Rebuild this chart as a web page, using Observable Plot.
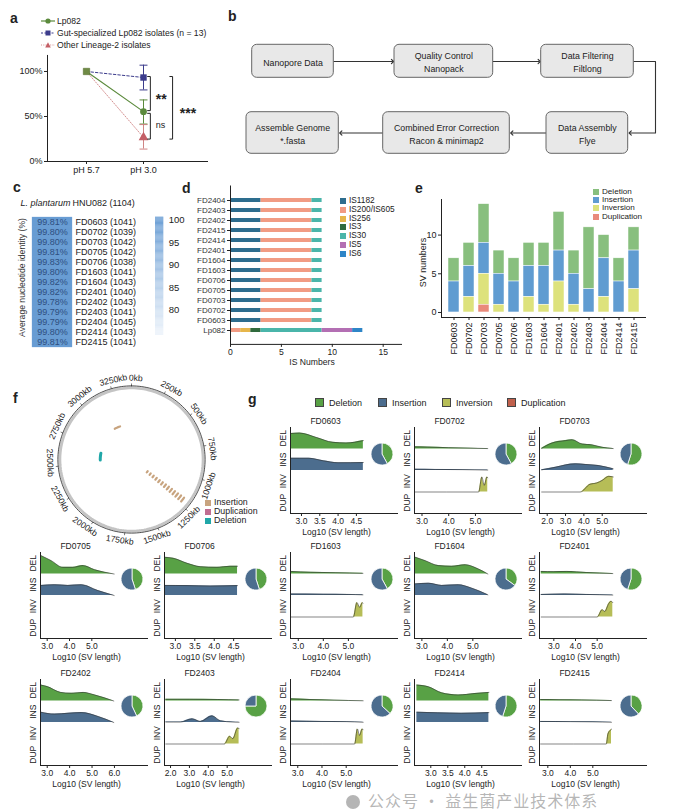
<!DOCTYPE html>
<html><head><meta charset="utf-8">
<script src="https://cdn.jsdelivr.net/npm/d3@7"></script>
<script src="https://cdn.jsdelivr.net/npm/@observablehq/plot@0.6"></script>
<style>
body{margin:0;background:#fff;}
#root{position:relative;width:685px;height:811px;overflow:hidden;font-family:"Liberation Sans",Arial,Helvetica,sans-serif;color:#222;}
.lbl{position:absolute;font-weight:bold;font-size:14px;line-height:1;}
.leg{position:absolute;color:#222;white-space:nowrap;line-height:1;}
.sw{display:inline-block;margin-right:3px;vertical-align:-1px;}
</style></head><body><div id="root"></div>
<script>
// ================= DATA =================
// a
const phLevels = ["pH 5.7", "pH 3.0"];
const aSeries = ["Lp082", "Gut-specialized Lp082 isolates (n = 13)", "Other Lineage-2 isolates"];
const aLp082 = [100, 55.4];
const aGut = [100, 93.3];
const aOther = [100, 26.8];
const aErrLow = [41.6, 79.5, 13.8];
const aErrHigh = [68.4, 107.0, 41.0];
const aBracketFrom = [94.4, 53.5, 94.4];
const aBracketTo = [56.5, 24.9, 24.9];
const aBracketLabel = ["**", "ns", "***"];
// b
const bSteps = ["Nanopore Data", "Quality Control\nNanopack", "Data Filtering\nFiltlong", "Data Assembly\nFlye", "Combined Error Correction\nRacon & minimap2", "Assemble Genome\n*.fasta"];
// c
const cStrains = ["FD0603","FD0702","FD0703","FD0705","FD0706","FD1603","FD1604","FD2401","FD2402","FD2403","FD2404","FD2414","FD2415"];
const cANI = [99.81,99.80,99.80,99.81,99.83,99.80,99.82,99.82,99.78,99.79,99.79,99.80,99.81];
const cGenes = [1041,1039,1042,1042,1038,1041,1043,1040,1043,1041,1045,1043,1041];
const cRef = "HNU082 (1104)";
const cColorTicks = [80,85,90,95,100];
// d
const dStrains = ["FD2404","FD2403","FD2402","FD2415","FD2414","FD2401","FD1604","FD1603","FD0706","FD0705","FD0703","FD0702","FD0603","Lp082"];
const dTypes = ["IS1182","IS200/IS605","IS256","IS3","IS30","IS5","IS6"];
const dIsolateCounts = [3,5,0,0,1,0,0];
const dLp082Counts = [0,1,1,1,6,3,1];
const dTicks = [0,5,10,15];
// e
const eStrains = ["FD0603","FD0702","FD0703","FD0705","FD0706","FD1603","FD1604","FD2401","FD2402","FD2403","FD2404","FD2414","FD2415"];
const eTypes = ["Deletion","Insertion","Inversion","Duplication"];
const eDeletion = [3,3,5,3,3,3,3,5,3,8,3,3,3];
const eInsertion = [4,4,4,4,4,4,5,4,4,3,5,4,5];
const eInversion = [0,2,4,1,0,2,1,4,1,0,2,0,3];
const eDuplication = [0,0,1,0,0,0,0,0,0,0,0,0,0];
// f
const fGenomeKb = 3400;
const fTicksKb = [0,250,500,750,1000,1250,1500,1750,2000,2250,2500,2750,3000,3250];
const fSVType = ["Insertion","Insertion","Deletion"];
const fSVStartKb = [1190, 3130, 2540];
const fSVEndKb = [1230, 3220, 2660];
const fSVTrackFrom = [0, 4, 3];
const fSVTrackTo = [12, 4, 3];
// g
const gStrains = ["FD0603","FD0702","FD0703","FD0705","FD0706","FD1603","FD1604","FD2401","FD2402","FD2403","FD2404","FD2414","FD2415"];
const gDomains = [[2.70,5.65],[2.72,6.76],[1.58,7.47],[2.70,7.54],[2.72,5.50],[2.69,7.0],[2.71,6.95],[2.34,7.32],[2.70,7.52],[1.68,7.4],[2.70,7.16],[2.52,5.70],[2.63,7.43]];
const gTicks = [[3,3.5,4,4.5],[3,4,5],[2,3,4,5],[3,4,5],[3,3.5,4,4.5],[3,4,5],[3,4,5],[3,4,5],[3,4,5,6],[2,3,4,5],[3,4,5],[3,3.5,4,4.5],[3,4,5]];
const gDEL = [
  [[2.70,0.72],[2.95,0.74],[3.40,0.54],[3.86,0.31],[4.22,0.28],[4.69,0.39]],
  [[2.72,0.10],[3.2,0.09],[4.0,0.06],[4.8,0.04],[5.46,0.02]],
  [[1.70,0.03],[2.27,0.28],[3.0,0.39],[3.36,0.43],[3.91,0.23],[4.46,0.19],[5.0,0.08],[5.6,0.02]],
  [[2.73,0.85],[3.18,0.62],[3.70,0.31],[4.15,0.31],[4.60,0.39],[5.12,0.2],[6.0,0.0]],
  [[2.72,0.78],[2.95,0.73],[3.30,0.5],[3.64,0.34],[4.07,0.31],[4.41,0.36],[4.6,0.36]],
  [[2.69,0.12],[3.5,0.08],[4.5,0.06],[5.58,0.03]],
  [[2.74,0.78],[3.13,0.62],[3.65,0.39],[4.17,0.36],[4.7,0.43],[5.22,0.23],[5.59,0.0]],
  [[2.42,0.12],[3.0,0.11],[3.6,0.12],[4.5,0.07],[5.72,0.02]],
  [[2.72,0.74],[3.0,0.67],[3.6,0.4],[4.07,0.36],[4.6,0.4],[5.12,0.28],[5.97,0.0]],
  [[1.75,0.08],[3.0,0.08],[4.5,0.07],[5.63,0.05]],
  [[2.72,0.10],[3.5,0.07],[4.5,0.04],[5.7,0.01]],
  [[2.59,0.74],[2.93,0.66],[3.32,0.38],[3.81,0.28],[4.3,0.35],[4.71,0.4]],
  [[2.68,0.07],[3.5,0.06],[4.5,0.05],[5.83,0.02]]
];
const gINS = [
  [[2.70,0.57],[3.2,0.57],[3.6,0.45],[4.0,0.36],[4.69,0.37]],
  [[2.72,0.06],[3.5,0.05],[4.5,0.04],[5.46,0.02]],
  [[1.70,0.03],[2.45,0.15],[3.0,0.26],[3.55,0.31],[4.1,0.28],[4.8,0.23],[5.6,0.08]],
  [[2.73,0.47],[3.33,0.5],[3.93,0.47],[4.53,0.5],[5.27,0.23],[6.0,0.0]],
  [[2.72,0.47],[3.3,0.46],[3.9,0.44],[4.6,0.46]],
  [[2.69,0.07],[4.0,0.06],[5.0,0.05],[5.58,0.03]],
  [[2.74,0.54],[3.26,0.57],[3.78,0.47],[4.43,0.5],[4.96,0.34],[5.59,0.03]],
  [[2.42,0.05],[3.5,0.07],[4.5,0.05],[5.72,0.02]],
  [[2.72,0.48],[3.33,0.39],[3.93,0.43],[4.53,0.46],[5.27,0.28],[5.97,0.0]],
  [[1.75,0.02],[2.53,0.02],[3.15,0.17],[3.58,0.05],[4.2,0.31],[4.64,0.08],[5.3,0.02],[5.63,0.01]],
  [[2.72,0.07],[4.0,0.05],[5.0,0.04],[5.7,0.01]],
  [[2.59,0.48],[3.2,0.45],[3.9,0.43],[4.71,0.46]],
  [[2.68,0.05],[4.0,0.04],[5.0,0.03],[5.83,0.01]]
];
const gINV = [
  [],
  [[2.72,0],[5.12,0],[5.24,0.7],[5.33,0.31],[5.43,0.7],[5.46,0.66]],
  [[1.70,0],[3.8,0],[4.33,0.36],[4.7,0.42],[5.0,0.54],[5.36,0.73],[5.6,0.7]],
  [],
  [],
  [[2.69,0],[5.2,0],[5.34,0.67],[5.45,0.45],[5.56,0.67],[5.58,0.64]],
  [],
  [[2.42,0],[5.0,0],[5.23,0.34],[5.35,0.26],[5.53,0.62],[5.64,0.73],[5.72,0.67]],
  [],
  [[1.75,0],[4.85,0],[5.13,0.36],[5.3,0.25],[5.55,0.74],[5.63,0.72]],
  [[2.72,0],[5.35,0],[5.46,0.7],[5.55,0.4],[5.66,0.7],[5.7,0.66]],
  [],
  [[2.68,0],[5.6,0],[5.67,0.46],[5.78,0.64],[5.83,0.69]]
];
const gPieDeletionShare = [0.42,0.42,0.55,0.45,0.45,0.42,0.35,0.55,0.43,0.75,0.37,0.55,0.38];
const gLegend = ["Deletion","Insertion","Inversion","Duplication"];

// ================= STYLES / HELPERS =================
const FONT = '"Liberation Sans", Arial, Helvetica, sans-serif';
const root = document.getElementById("root");
function place(el, left, top) { el.style.position = "absolute"; el.style.left = left + "px"; el.style.top = top + "px"; root.appendChild(el); return el; }
function st(fs = 9) { return {background: "transparent", fontFamily: FONT, fontSize: fs + "px", color: "#222", overflow: "visible"}; }
function letter(t, x, y) { const d = document.createElement("div"); d.className = "lbl"; d.textContent = t; place(d, x, y); }
function legendV(items, left, top, step, fs, sw) {
  items.forEach(([label, color], i) => {
    const d = document.createElement("div"); d.className = "leg"; d.style.fontSize = fs + "px";
    d.innerHTML = `<span class="sw" style="background:${color};width:${sw}px;height:${sw}px"></span>${label}`;
    place(d, left, top + i * step - fs / 2);
  });
}

// ================= PANEL a =================
{
  const lo = 0.316, hi = 3.14;
  const col = ["#5b8a3c", "#3c3c8c", "#cf8484"];
  const arrs = [aLp082, aGut, aOther];
  const long = [];
  arrs.forEach((arr, s) => arr.forEach((v, j) => long.push({s, x: j + 1, v})));
  const err = aSeries.map((n, s) => ({s, x: 2, lo: aErrLow[s], hi: aErrHigh[s]}));
  const caps = err.flatMap(e => [{s: e.s, x: e.x, y: e.lo}, {s: e.s, x: e.x, y: e.hi}]);
  const bx = [2.12, 2.12, 2.51];
  const br = aBracketLabel.map((l, k) => ({x: bx[k], from: aBracketFrom[k], to: aBracketTo[k], l}));
  const brTicks = br.flatMap(b => [{x: b.x, y: b.from}, {x: b.x, y: b.to}]);
  const p = Plot.plot({
    width: 230, height: 128, marginLeft: 47, marginRight: 22, marginTop: 0, marginBottom: 17,
    x: {domain: [lo, hi], axis: null}, y: {domain: [0, 123.3], axis: null},
    style: st(9),
    marks: [
      Plot.ruleY([0], {x1: lo, x2: hi, stroke: "#222"}),
      Plot.ruleX([lo], {y1: 0, y2: 117.8, stroke: "#222"}),
      Plot.axisY({ticks: [0, 50, 100], tickFormat: d => d + "%", tickSize: 3, tickPadding: 2, fontSize: 9, label: null}),
      Plot.axisX({ticks: [1, 2], tickFormat: d => phLevels[d - 1], tickSize: 3, tickPadding: 2, fontSize: 9, label: null}),
      Plot.line(long.filter(d => d.s === 2), {x: "x", y: "v", stroke: col[2], strokeWidth: 0.9, strokeDasharray: "1.2,1.6"}),
      Plot.line(long.filter(d => d.s === 1), {x: "x", y: "v", stroke: col[1], strokeWidth: 1, strokeDasharray: "2.5,2"}),
      Plot.line(long.filter(d => d.s === 0), {x: "x", y: "v", stroke: col[0], strokeWidth: 1.2}),
      Plot.ruleX(err, {x: "x", y1: "lo", y2: "hi", stroke: d => col[d.s], strokeWidth: 1}),
      Plot.link(caps, {x1: d => d.x - 0.07, x2: d => d.x + 0.07, y1: "y", y2: "y", stroke: d => col[d.s], strokeWidth: 1}),
      Plot.dot(long.filter(d => d.x === 2 && d.s === 2), {x: "x", y: "v", symbol: "triangle", r: 3.6, fill: "#c45f66"}),
      Plot.dot(long.filter(d => d.x === 2 && d.s === 0), {x: "x", y: "v", symbol: "circle", r: 3.4, fill: col[0]}),
      Plot.dot(long.filter(d => d.x === 2 && d.s === 1), {x: "x", y: "v", symbol: "square", r: 3.6, fill: col[1]}),
      Plot.dot(long.filter(d => d.x === 1 && d.s === 0), {x: "x", y: "v", symbol: "square", r: 3.6, fill: "#6f8a45", stroke: "#55702f", strokeWidth: 0.6}),
      Plot.link(br, {x1: "x", x2: "x", y1: "from", y2: "to", stroke: "#222", strokeWidth: 1}),
      Plot.link(brTicks, {x1: "x", x2: d => d.x - 0.055, y1: "y", y2: "y", stroke: "#222", strokeWidth: 1}),
      Plot.text([br[0]], {x: () => 2.31, y: () => 73.5, text: "l", fontSize: 14, fontWeight: "bold", dy: 4}),
      Plot.text([br[1]], {x: () => 2.30, y: () => 40, text: "l", fontSize: 9}),
      Plot.text([br[2]], {x: () => 2.78, y: () => 57.8, text: "l", fontSize: 14, fontWeight: "bold", dy: 4})
    ]
  });
  place(p, 0, 50);
  const icons = [
    `<svg width="16" height="8" style="vertical-align:-1px"><line x1="1" y1="4" x2="15" y2="4" stroke="${col[0]}" stroke-width="1.2"/><circle cx="8" cy="4" r="2.6" fill="${col[0]}"/></svg>`,
    `<svg width="16" height="8" style="vertical-align:-1px"><line x1="1" y1="4" x2="15" y2="4" stroke="${col[1]}" stroke-width="1" stroke-dasharray="2,1.5"/><rect x="5.5" y="1.5" width="5" height="5" fill="${col[1]}"/></svg>`,
    `<svg width="16" height="8" style="vertical-align:-1px"><line x1="1" y1="4" x2="15" y2="4" stroke="${col[2]}" stroke-width="0.9" stroke-dasharray="1,1.3"/><path d="M8,1.2L10.8,6.5L5.2,6.5Z" fill="#c45f66"/></svg>`
  ];
  aSeries.forEach((s, i) => {
    const d = document.createElement("div"); d.className = "leg"; d.style.fontSize = "8.6px";
    d.innerHTML = icons[i] + `<span style="margin-left:1px">${s}</span>`;
    place(d, 40, [22, 34, 46][i] - 5);
  });
}

// ================= PANEL b =================
{
  const boxes = [[21.7,103.3,44.3,77.3],[164,262.7,44.3,77.3],[310.7,403.3,44.3,77.3],[316,397.7,111.7,153.3],[152.7,279.3,111.7,153.3],[16,108.3,111.7,153.3]];
  const nodes = bSteps.map((t, i) => ({t, x1: boxes[i][0], x2: boxes[i][1], y1: boxes[i][2], y2: boxes[i][3]}));
  const links = [
    [[103.3,61],[162,61]], [[262.7,61],[308.7,61]], [[403.3,61],[425,61],[425,132.5],[399.7,132.5]],
    [[316,132.5],[281.3,132.5]], [[152.7,132.5],[110.3,132.5]]
  ].flatMap((pts, k) => pts.map(([x, y]) => ({k, x, y})));
  const p = Plot.plot({
    width: 455, height: 170, margin: 0,
    x: {domain: [0, 455], axis: null}, y: {domain: [0, 170], reverse: true, axis: null},
    style: st(9),
    marks: [
      Plot.line(links, {x: "x", y: "y", z: "k", stroke: "#333", strokeWidth: 1.1, markerEnd: "arrow"}),
      Plot.rect(nodes, {x1: "x1", x2: "x2", y1: "y1", y2: "y2", rx: 5, fill: "#e8e8e8", stroke: "#666", strokeWidth: 1}),
      Plot.text(nodes, {x: d => (d.x1 + d.x2) / 2, y: d => (d.y1 + d.y2) / 2, text: "t", fontSize: 8.8, lineHeight: 1.5, fill: "#222"})
    ]
  });
  place(p, 230, 0);
}

// ================= PANEL c =================
{
  const cData = cStrains.map((s, i) => ({strain: s, ani: cANI[i], genes: cGenes[i]}));
  const color = {type: "linear", domain: [74.4, 100.6], range: ["#eef4fb", "#6399d2"]};
  const p = Plot.plot({
    width: 150, height: 165, marginLeft: 32, marginRight: 78, marginTop: 16, marginBottom: 7,
    x: {type: "band", domain: ["ANI"], padding: 0, axis: null},
    y: {type: "band", domain: cStrains, padding: 0, axis: null},
    color, style: st(9),
    marks: [
      Plot.cell(cData, {x: () => "ANI", y: "strain", fill: "ani", stroke: "#76a4d6", strokeWidth: 0.3}),
      Plot.text(cData, {x: () => "ANI", y: "strain", text: d => d.ani.toFixed(2) + "%", fill: "#2f4f80", fontSize: 9}),
      Plot.text(cData, {x: () => "ANI", y: "strain", text: d => `${d.strain} (${d.genes})`, dx: 23, textAnchor: "start", fill: "#222", fontSize: 9}),
      Plot.text(["L. plantarum"], {x: () => "ANI", frameAnchor: "top", lineAnchor: "middle", dx: 18, dy: -8, textAnchor: "end", fontStyle: "italic", fontSize: 9}),
      Plot.text([cRef], {x: () => "ANI", frameAnchor: "top", lineAnchor: "middle", dx: 20, dy: -8, textAnchor: "start", fontSize: 9}),
      Plot.text(["Average nucleotide identity (%)"], {frameAnchor: "left", textAnchor: "middle", lineAnchor: "middle", dx: -10, dy: -5, rotate: -90, fontSize: 8.6, fill: "#333"})
    ]
  });
  place(p, 0, 195);
  const steps = d3.range(74.4, 100.6, 0.2);
  const cb = Plot.plot({
    width: 50, height: 130, marginLeft: 10, marginRight: 31.7, marginTop: 6.7, marginBottom: 5,
    x: {domain: [0, 1], axis: null}, y: {domain: [74.4, 100.6], axis: null},
    color, style: st(9.5),
    marks: [
      Plot.rect(steps, {x1: () => 0, x2: () => 1, y1: d => d, y2: d => d + 0.21, fill: d => d}),
      Plot.axisY({anchor: "right", ticks: cColorTicks, tickSize: 0, tickPadding: 5, fontSize: 9.5, label: null})
    ]
  });
  place(cb, 145, 210);
}

// ================= PANEL d =================
{
  const dColors = ["#2d6d8e","#f19b83","#e6b64b","#2f6a3d","#4ab5aa","#b36fb3","#2e85c7"];
  const dData = [];
  dStrains.forEach(s => dTypes.forEach((t, k) => {
    const n = s === "Lp082" ? dLp082Counts[k] : dIsolateCounts[k];
    if (n > 0) dData.push({strain: s, type: t, n});
  }));
  const p = Plot.plot({
    width: 230, height: 182, marginLeft: 47, marginRight: 12, marginTop: 0.5, marginBottom: 23.1,
    x: {domain: [0, 16.8], axis: null},
    y: {type: "band", domain: dStrains, padding: 0.57, axis: null},
    color: {domain: dTypes, range: dColors},
    style: st(8),
    marks: [
      Plot.barX(dData, {x: "n", y: "strain", fill: "type", order: dTypes}),
      Plot.frame({anchor: "bottom", stroke: "#222"}),
      Plot.frame({anchor: "left", stroke: "#222"}),
      Plot.axisY({tickSize: 3, tickPadding: 2, fontSize: 8, label: null, fill: "#333"}),
      Plot.axisX({ticks: dTicks, tickSize: 3, tickPadding: 1, fontSize: 8.6, label: null}),
      Plot.text(["IS Numbers"], {frameAnchor: "bottom", lineAnchor: "middle", textAnchor: "middle", dy: 18, dx: -4, fontSize: 8.6})
    ]
  });
  place(p, 183, 185);
  legendV(dTypes.map((t, k) => [t, dColors[k]]), 340, 200, 8.83, 8.3, 6);
}

// ================= PANEL e =================
{
  const eColors = ["#88bf7e", "#609cd1", "#dde27c", "#e98a7b"];
  const cols = [eDeletion, eInsertion, eInversion, eDuplication];
  const eData = [];
  eStrains.forEach((s, i) => eTypes.forEach((t, k) => { if (cols[k][i] > 0) eData.push({strain: s, type: t, n: cols[k][i]}); }));
  const p = Plot.plot({
    width: 240, height: 175, marginLeft: 26, marginRight: 10, marginTop: 14, marginBottom: 43,
    x: {type: "band", domain: eStrains, padding: 0.3, axis: null},
    y: {domain: [-0.65, 14.6], axis: null},
    color: {domain: eTypes, range: eColors},
    style: st(9),
    marks: [
      Plot.barY(eData, {x: "strain", y: "n", fill: "type", order: ["Duplication", "Inversion", "Insertion", "Deletion"], stroke: "#fff", strokeWidth: 0.5}),
      Plot.frame({anchor: "bottom", stroke: "#222"}),
      Plot.frame({anchor: "left", stroke: "#222"}),
      Plot.axisY({ticks: [0, 5, 10], tickSize: 3, tickPadding: 2, fontSize: 9, label: null}),
      Plot.axisX({tickRotate: -90, tickSize: 3, tickPadding: 2, fontSize: 9, label: null}),
      Plot.text(["SV numbers"], {frameAnchor: "left", textAnchor: "middle", lineAnchor: "middle", dx: -18, dy: 4, rotate: -90, fontSize: 9})
    ]
  });
  place(p, 415, 185);
  legendV(eTypes.map((t, k) => [t, eColors[k]]), 593, 192, 8.2, 8.1, 6);
}

// ================= PANEL f =================
{
  const fColors = {Insertion: "#c8a47f", Duplication: "#c06d91", Deletion: "#20a7a8"};
  const ang = kb => kb / fGenomeKb * 2 * Math.PI;
  const px = (kb, r) => r * Math.sin(ang(kb));
  const py = (kb, r) => r * Math.cos(ang(kb));
  const labelShift = 3 / 360 * fGenomeKb; // label placement offset (layout)
  const ring = d3.range(0, 181).map(j => j / 180 * fGenomeKb);
  const segs = [];
  fSVType.forEach((type, k) => {
    for (let t = fSVTrackFrom[k]; t <= fSVTrackTo[k]; t++) {
      const r = 20 + 3.75 * t;
      for (let j = 0; j <= 6; j++) segs.push({id: k + "-" + t, type, kb: fSVStartKb[k] + (fSVEndKb[k] - fSVStartKb[k]) * j / 6, r});
    }
  });
  const rot = kb => { const a = (kb + labelShift) / fGenomeKb * 360; return (a <= 90 || a >= 270) ? a : a - 180; };
  const p = Plot.plot({
    width: 210, height: 210, margin: 0,
    x: {domain: [-105, 105], axis: null}, y: {domain: [-105, 105], axis: null},
    style: st(8.6),
    marks: [
      Plot.line(ring, {x: kb => px(kb, 71.6), y: kb => py(kb, 71.6), stroke: "#c4c4c4", strokeWidth: 2.8}),
      Plot.line(ring, {x: kb => px(kb, 73.6), y: kb => py(kb, 73.6), stroke: "#222", strokeWidth: 0.8}),
      Plot.link(fTicksKb, {x1: kb => px(kb, 73.6), y1: kb => py(kb, 73.6), x2: kb => px(kb, 76), y2: kb => py(kb, 76), stroke: "#222", strokeWidth: 0.6}),
      Plot.text(fTicksKb, {x: kb => px(kb + labelShift, 81.5), y: kb => py(kb + labelShift, 81.5), text: kb => kb + "kb", rotate: rot, fontSize: 8.6, fill: "#222"}),
      Plot.line(segs.filter(d => d.type === "Insertion"), {x: d => px(d.kb, d.r), y: d => py(d.kb, d.r), z: "id", stroke: fColors.Insertion, strokeWidth: 2.2}),
      Plot.line(segs.filter(d => d.type === "Deletion"), {x: d => px(d.kb, d.r), y: d => py(d.kb, d.r), z: "id", stroke: fColors.Deletion, strokeWidth: 3})
    ]
  });
  place(p, 26, 354);
  legendV([["Insertion", fColors.Insertion], ["Duplication", fColors.Duplication], ["Deletion", fColors.Deletion]], 205, 502, 9, 8.8, 6);
}

// ================= PANEL g =================
{
  const gColors = ["#58a145", "#4c6d8e", "#b6bd57", "#c0604c"];
  const gX0 = [290,414,539,39.5,164,290,414,539,39.5,164,290,414,539];
  const gTop = [427,427,427,552,552,552,552,552,679,679,679,679,679];
  gStrains.forEach((name, i) => {
    const [lo, hi] = gDomains[i];
    const rows = [[gDEL[i], 3, gColors[0]], [gINS[i], 2, gColors[1]], [gINV[i], 1, gColors[2]]];
    const marks = [];
    for (const [pts, r, c] of rows) {
      if (!pts.length) continue;
      marks.push(Plot.area(pts, {x1: d => d[0], y1: () => r, y2: d => r + d[1], fill: c, curve: "monotone-x"}));
      marks.push(Plot.line(pts, {x: d => d[0], y: d => r + d[1], stroke: "#333", strokeWidth: 0.6, curve: "monotone-x"}));
    }
    const frac = gPieDeletionShare[i];
    const pie = (index, scales, values, dims) => {
      const g = d3.create("svg:g").attr("transform", `translate(${dims.marginLeft + 92},${dims.marginTop + 27})`);
      g.selectAll("path").data(d3.pie().sort(null)([frac, 1 - frac])).join("path")
        .attr("d", d3.arc().innerRadius(0).outerRadius(11))
        .attr("fill", (d, j) => j === 0 ? gColors[0] : gColors[1])
        .attr("stroke", "#fff").attr("stroke-width", 0.8);
      return g.node();
    };
    const p = Plot.plot({
      width: 138, height: 128, marginLeft: 24, marginRight: 6, marginTop: 16, marginBottom: 26,
      x: {domain: [lo, hi], axis: null}, y: {domain: [0, 4], axis: null},
      style: st(8.5),
      marks: [
        ...marks,
        Plot.ruleX([lo], {y1: 0, y2: 4, stroke: "#222", strokeWidth: 1}),
        Plot.ruleY([0], {x1: lo, x2: hi, stroke: "#222", strokeWidth: 1}),
        Plot.axisX({ticks: gTicks[i], tickFormat: d3.format(".1f"), tickSize: 3, tickPadding: 1, fontSize: 8.5, label: null}),
        Plot.text(["DEL", "INS", "INV", "DUP"], {x: () => lo, y: (d, k) => 3.5 - k, text: d => d, rotate: -90, dx: -7, fontSize: 8.5}),
        Plot.text([name], {x: () => lo, y: () => 4, dx: 35, dy: -6, fontSize: 8.5}),
        Plot.text(["Log10 (SV length)"], {x: () => lo, y: () => 0, dx: 46, dy: 19, fontSize: 8.5}),
        pie
      ]
    });
    place(p, gX0[i] - 24, gTop[i] - 16);
  });
  const lg = [[315, 0], [378, 1], [442, 2], [507, 3]];
  lg.forEach(([x, k]) => {
    const d = document.createElement("div"); d.className = "leg"; d.style.fontSize = "9px";
    d.innerHTML = `<span class="sw" style="background:${gColors[k]};width:7px;height:7px;border:0.5px solid #444;margin-right:5px"></span>${gLegend[k]}`;
    place(d, x, 402 - 4.5);
  });
}

// ================= LETTERS & WATERMARK =================
letter("a", 10, 11); letter("b", 228, 9); letter("c", 13, 180); letter("d", 182, 181);
letter("e", 415, 181); letter("f", 13, 391); letter("g", 248, 392);
{
  const w = document.createElement("div");
  w.style.cssText = 'position:absolute;font-family:"Noto Sans CJK SC",sans-serif;font-size:16px;line-height:1;color:rgba(150,150,150,0.7);white-space:nowrap;letter-spacing:1px;';
  w.innerHTML = '<span style="display:inline-block;width:14px;height:14px;border-radius:50%;background:rgba(150,150,150,0.7);vertical-align:-2px;margin-right:8px"></span>公众号 · 益生菌产业技术体系';
  place(w, 346, 792);
}
</script></body></html>
